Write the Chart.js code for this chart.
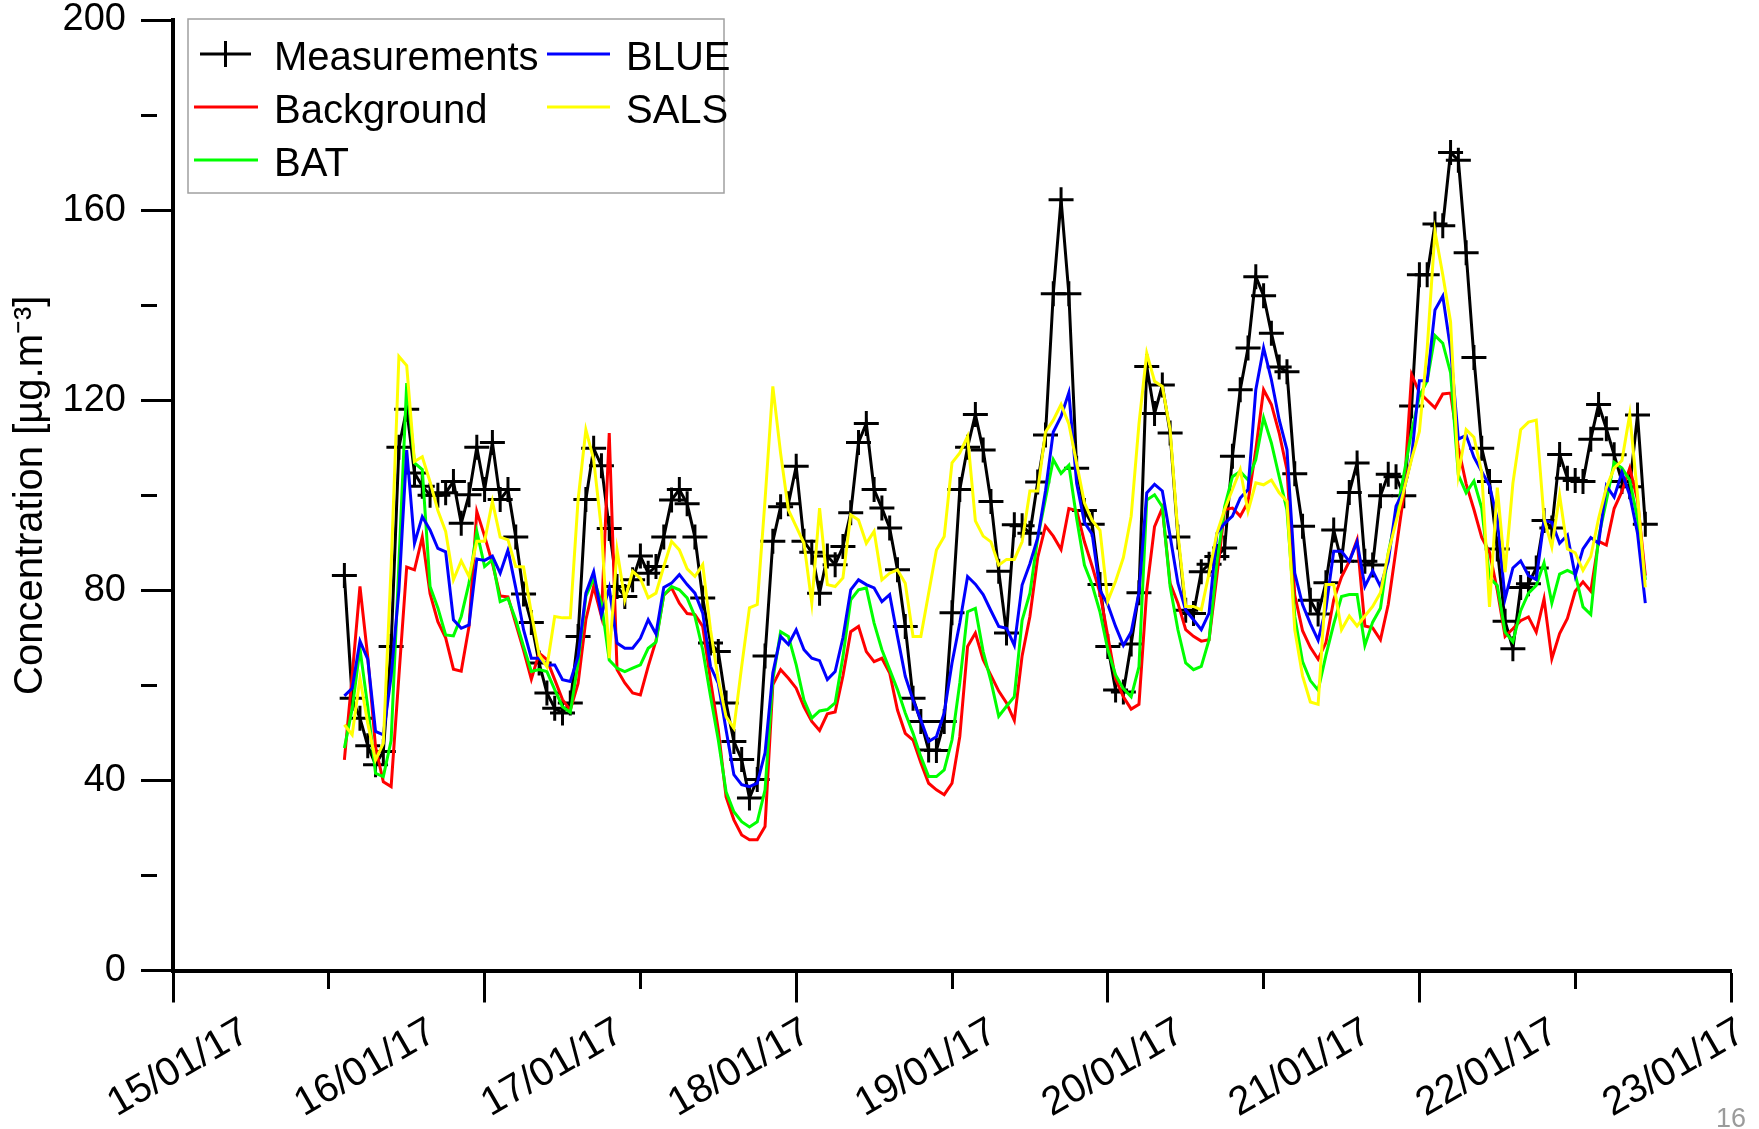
<!DOCTYPE html>
<html><head><meta charset="utf-8">
<script src="https://cdn.jsdelivr.net/npm/chart.js@4.4.0/dist/chart.umd.min.js"></script>
<style>html,body{margin:0;padding:0;background:#fff;}canvas{display:block;}</style>
</head><body>
<canvas id="c" width="1759" height="1129"></canvas>
<script>
// ---- data (hourly values, first value at 15/01/17 22:00) ----
const startHour = 22;               // hours after 15/01/17 00:00
const dateLabels = ['15/01/17','16/01/17','17/01/17','18/01/17','19/01/17','20/01/17','21/01/17','22/01/17','23/01/17'];
const dateHours = [0,24,48,72,96,120,144,168,192];
const tickHours = [0,20,40,60,80,100,120,140,160,180,200];
const yTicks = [0,20,40,60,80,100,120,140,160,180,200];
const yLabelled = [0,40,80,120,160,200];

const measurements = [
83.1,57.3,53.1,47.3,43.3,46.1,68.2,110.1,118.1,104.7,
101.9,100,100,100.5,102.9,94.1,100.1,110.1,101.2,111.1,
99.1,101.2,91.2,79.2,73.2,64.7,58.4,55.2,54.2,56.3,
70.3,99.1,109.9,106.2,93,80.8,78.7,82.2,87.2,83.6,
85,91.2,99,101.2,98.2,91.2,78.4,68.9,67.1,56.3,
48.2,44.4,36.3,40.2,66.2,90.3,97.6,98.2,106.1,90.3,
88,79.4,87.2,85.4,89.2,96.3,111.1,115.1,101.2,97.3,
93.1,84.3,72.4,57.3,52.4,46.4,46.3,52.4,75.3,101.2,
110.1,117,109.5,98.7,84,71,93.8,93.6,92,102.8,
112.7,142.4,162.2,142.4,105.7,96.8,93.9,81.2,68.2,59,
58.6,68.7,79.5,127.1,117.2,123.2,113.1,91.2,75.8,75.1,
83.9,85.5,87.1,88.9,108.2,122.2,131,146,142,134.1,
127,126,104.5,93.5,77.9,75,81.6,92.7,86.1,100.6,
106.8,86.1,85.3,99.9,104.4,103.9,99.9,118.8,146.4,146.4,
157.1,156.7,172.1,170.5,151,129,109.9,102.9,88.7,73.5,
67.7,80.6,81.4,84.7,94.7,93.1,108.6,103.6,103.1,102.9,
111.8,119.1,114,108.5,102.9,101.8,116.9,93.9];

const background = [
44.3,62,80.8,66,47,39.7,38.7,62,84.9,84.3,
91.2,79.3,73.4,70,63.4,63,72.4,96.6,91.4,85.7,
78.8,78.6,73,67.4,61.3,66.8,65.4,61.2,57,54.8,
60.4,73.8,80.8,74.5,113.1,63.3,60.5,58.4,58,64,
69.4,79,80.5,77.3,75.1,74.9,72.4,61.1,50.6,36.5,
31.7,28.5,27.5,27.5,30.3,60.1,63.3,61.5,59.4,55.5,
52.4,50.5,54,54.4,62,71.3,72.4,67.1,65,65.7,
62.6,54.8,49.9,48.5,43.7,39.4,38,37,39.4,49.2,
68.2,71,65.4,62.1,58.8,56.3,52.6,66.2,74.5,86.9,
93.5,91.4,88.6,97.2,96.8,90.2,85,79.4,70.4,61.3,
57.6,55,56,80,93.4,97.3,81.5,77.3,71.7,70.3,
69.3,69.6,83,97,97.3,95.6,98.6,109.6,122.2,119.1,
113.1,105.4,79,71.5,68,65.5,69,78,82.8,86.1,
90.6,72.5,72.1,69.6,77,88.6,100.1,125.4,121.6,120,
118.4,121.3,121.5,110,102.4,97,91.1,88,80,70.3,
71.9,73.6,74.4,71.2,78.2,65.6,70.9,74.1,79.8,81.8,
79.8,90.3,89.5,97.2,100.8,105.7,99,83.1];

const bat = [
46.8,55,67.7,55.5,41.5,40.8,48.4,85.7,123.6,106.8,
105.4,80.8,76.3,70.6,70.4,74.5,81.5,92.4,85,86.4,
77.6,78.3,73.8,68.2,62.9,63.3,62.9,59.1,55.5,54.3,
64.7,78.7,82.5,77.3,65.3,63.6,62.9,63.6,64.3,67.8,
69.1,79,80.8,80.1,78.4,74.5,67.5,57.7,48.5,37.6,
33.4,31.3,30.2,31.3,38,61.2,71.3,70.3,64.3,56.9,
53.1,54.6,54.9,56.3,66,78,80.1,80.5,73.1,67.5,
63.3,59.1,54.2,49.9,45,40.8,40.8,42.2,48.5,60.5,
75.5,76.2,67.1,60.9,53.5,55.6,57.6,73.7,79.4,91,
99.2,107.5,104.6,106.3,95.1,85.3,81.1,75.4,67.5,62.2,
59.3,57.6,63.9,99,100.1,97.6,80.8,71.7,64.7,63.3,
64,69.6,85.7,97.6,103.9,105,103.2,107.5,116.3,111,
103.9,96.9,74.5,65,61,59,66.3,72.9,78.7,79.1,
79.1,68.4,73.3,76.2,87.8,95.6,104.3,113.4,120.8,124.1,
133.6,132,125.8,104.3,100.5,103,97.3,82.6,81,71.2,
69.2,75.7,79.4,81,85.8,77.3,83.4,84.2,83.4,76.5,
74.9,91.1,98.8,106.9,105.7,103.2,95,82.2];

const blue = [
57.8,59.4,69.3,65.5,50.3,49.6,61.9,80,109.5,89.9,
95.5,92.7,88.8,88.1,73.8,72,72.7,86.6,86.3,87.2,
83.6,88.5,80.5,71.7,65.7,65.7,64.3,64.3,61.2,60.8,
66.1,79.4,83.9,74.8,80.5,68.9,67.8,67.8,69.9,73.8,
70.8,80.6,81.5,83.3,81.2,79.4,75.2,64,60.4,50.6,
41.2,39.1,38.7,39.4,45.8,62.6,70.3,68.6,71.7,67.5,
65.7,65.2,61.2,62.9,70,80.1,82.2,81.2,80.5,77.6,
79.1,70.3,61.9,56.9,52.7,48.2,49.2,54.2,64.7,73.1,
82.9,81.3,79.1,75.7,72.4,72,68.4,81.1,85.6,91,
100.9,113.3,116.6,121.6,102.5,94.3,91.8,80,77,72.4,
68.4,71.2,79.5,100.5,102.3,100.9,91.4,81.5,75.8,73.8,
71.7,75.2,92,94.1,95.6,99.4,101.2,122.2,131,124.3,
115.9,109.6,83.6,77,73,69.5,76.2,88.2,88.2,86.1,
90.2,80.8,84.1,80.8,86.1,97.7,101,108,124.1,124.1,
139,141.9,130.8,111.8,112.6,108,105,102,95,78.2,
84.7,86.2,83.1,82.3,94.7,94.3,89.9,91.6,83.1,88.7,
91.1,89.9,102,99.6,104.8,100,92,77.3];

const sals = [
51.7,49.6,61.5,52,44.3,47.8,85,129.2,127.3,107.1,
108.1,102.8,96.8,92.4,82.2,86.2,82.9,90.3,90.3,98.7,
91.2,90.6,85,84.9,75.2,66.4,63.9,74.5,74.2,74.2,
99,113.8,107.5,92.8,65.7,88.5,78,84,82.5,78.4,
79.4,85,90.3,88.5,84.5,82.9,85.4,71.7,61.2,53.4,
51,64,76.3,77,99,122.9,108.8,96.9,93.4,89.9,
77.3,97.3,81.2,80.8,82.6,95.9,94.8,89.9,92.4,82.2,
83.6,84.3,81.5,70.3,70.3,79.4,88.5,91.3,106.8,108.9,
112.4,94.6,91.4,90.2,85.3,86.5,86.5,90.2,100.9,100.9,
113.3,115.8,119.1,115,106.7,98.4,94.7,92.6,77.8,81.9,
86.9,95.6,115,129.9,124,122.9,113.8,92,76.6,76.6,
75.9,83.6,92,97,101.2,105.4,96.6,102.6,102.2,103.2,
100.5,98.7,71.7,62,56.5,56,81.2,81.2,71.7,74.6,
72.5,74.6,76.6,79.5,87.8,94.4,101,107.6,113.4,130.8,
155.5,146.4,136.5,104.3,113.8,112.2,104.8,76.5,101.6,83.8,
102.5,113.8,115.4,115.8,95.1,89.1,100,88.7,87.9,84.2,
87.1,95.1,101.6,105.7,107.3,117,100,80.6];

// ---- chart ----
Chart.defaults.font.family = "'Liberation Sans', Arial, sans-serif";
Chart.defaults.color = '#000';

const toPts = arr => arr.map((v, i) => ({x: startHour + i, y: v}));
const minorDash = ctx => (ctx.tick && yLabelled.indexOf(ctx.tick.value) < 0 && ctx.scale.axis === 'y') ? [16, 200]
  : (ctx.tick && ctx.scale.axis === 'x' && ctx.tick.value % 40 !== 0) ? [16, 200] : [];

const legendPlugin = {
  id: 'boxLegend',
  afterDraw(chart) {
    const ctx = chart.ctx;
    const ds = chart.data.datasets;
    ctx.save();
    ctx.fillStyle = '#fff';
    ctx.fillRect(188, 19, 536, 174);
    ctx.strokeStyle = '#a0a0a0';
    ctx.lineWidth = 1.5;
    ctx.strokeRect(188, 19, 536, 174);
    const entries = [
      {d: 0, col: 0, row: 0}, {d: 3, col: 1, row: 0},
      {d: 1, col: 0, row: 1}, {d: 4, col: 1, row: 1},
      {d: 2, col: 0, row: 2}
    ];
    const colX = [[194, 258, 274], [547, 610, 626]];
    const rowLine = [54, 107, 160];
    const rowText = [59, 112, 165];
    ctx.font = "40px 'Liberation Sans', Arial, sans-serif";
    ctx.textBaseline = 'middle';
    ctx.textAlign = 'left';
    for (const e of entries) {
      const d = ds[e.d];
      const [x0, x1, tx] = colX[e.col];
      ctx.strokeStyle = d.borderColor;
      ctx.lineWidth = 3;
      ctx.beginPath();
      if (d.pointStyle === 'cross') {
        ctx.moveTo(200, rowLine[e.row]); ctx.lineTo(251, rowLine[e.row]);
        ctx.moveTo(225.5, rowLine[e.row] - 13); ctx.lineTo(225.5, rowLine[e.row] + 13);
      } else {
        ctx.moveTo(x0, rowLine[e.row]); ctx.lineTo(x1, rowLine[e.row]);
      }
      ctx.stroke();
      ctx.fillStyle = '#000';
      ctx.fillText(d.label, tx, rowText[e.row]);
    }
    ctx.fillStyle = '#9b9b9b';
    ctx.font = "27px 'Liberation Sans', Arial, sans-serif";
    ctx.textBaseline = 'alphabetic';
    ctx.fillText('16', 1716, 1127);
    ctx.restore();
  }
};

new Chart(document.getElementById('c'), {
  type: 'line',
  data: {
    datasets: [
      {label: 'Measurements', data: toPts(measurements), borderColor: '#000000', backgroundColor: '#000000',
       borderWidth: 3, pointStyle: 'cross', pointRadius: 12.5, pointBorderWidth: 3, pointBorderColor: '#000000', order: 5},
      {label: 'Background', data: toPts(background), borderColor: '#ff0000', borderWidth: 3, pointRadius: 0, order: 4},
      {label: 'BAT', data: toPts(bat), borderColor: '#00ff00', borderWidth: 3, pointRadius: 0, order: 3},
      {label: 'BLUE', data: toPts(blue), borderColor: '#0000ff', borderWidth: 3, pointRadius: 0, order: 2},
      {label: 'SALS', data: toPts(sals), borderColor: '#ffff00', borderWidth: 3, pointRadius: 0, order: 1}
    ]
  },
  options: {
    responsive: false,
    animation: false,
    devicePixelRatio: 1,
    layout: {padding: {left: 0, right: 28, top: 20, bottom: 0}},
    plugins: {legend: {display: false}, tooltip: {enabled: false}},
    elements: {line: {tension: 0}},
    scales: {
      x: {
        type: 'linear', position: 'bottom', min: 0, max: 200,
        afterBuildTicks: s => { s.ticks = tickHours.map(v => ({value: v})); },
        ticks: {display: false},
        grid: {drawOnChartArea: false, drawTicks: true, tickLength: 32, tickWidth: 3, tickColor: '#000', tickBorderDash: minorDash},
        border: {display: true, color: '#000', width: 4},
        afterFit: s => { s.height = 32; s.paddingLeft = 0; s.paddingRight = 0; }
      },
      xd: {
        type: 'linear', position: 'bottom', min: 0, max: 200,
        afterBuildTicks: s => { s.ticks = dateHours.map(v => ({value: v})); },
        ticks: {autoSkip: false, minRotation: 30, maxRotation: 30, labelOffset: 73, padding: 6, color: '#000',
                font: {size: 40}, callback: (v, i) => dateLabels[i]},
        grid: {display: false, drawTicks: false},
        border: {display: false},
        afterFit: s => { s.height = 126.5; s.paddingLeft = 0; s.paddingRight = 0; }
      },
      y: {
        min: 0, max: 200,
        afterBuildTicks: s => { s.ticks = yTicks.map(v => ({value: v})); },
        ticks: {padding: 15, color: '#000', font: {size: 38},
                callback: v => yLabelled.indexOf(v) >= 0 ? String(v) : ''},
        grid: {drawOnChartArea: false, tickLength: 32, tickWidth: 3, tickColor: '#000', tickBorderDash: minorDash},
        border: {color: '#000', width: 4},
        title: {display: true, text: 'Concentration [µg.m⁻³]', color: '#000', font: {size: 40}, padding: {top: 7, bottom: 0}},
        afterFit: s => { s.width = 173; s.paddingTop = 0; s.paddingBottom = 0; }
      }
    }
  },
  plugins: [legendPlugin]
});
</script>
</body></html>
